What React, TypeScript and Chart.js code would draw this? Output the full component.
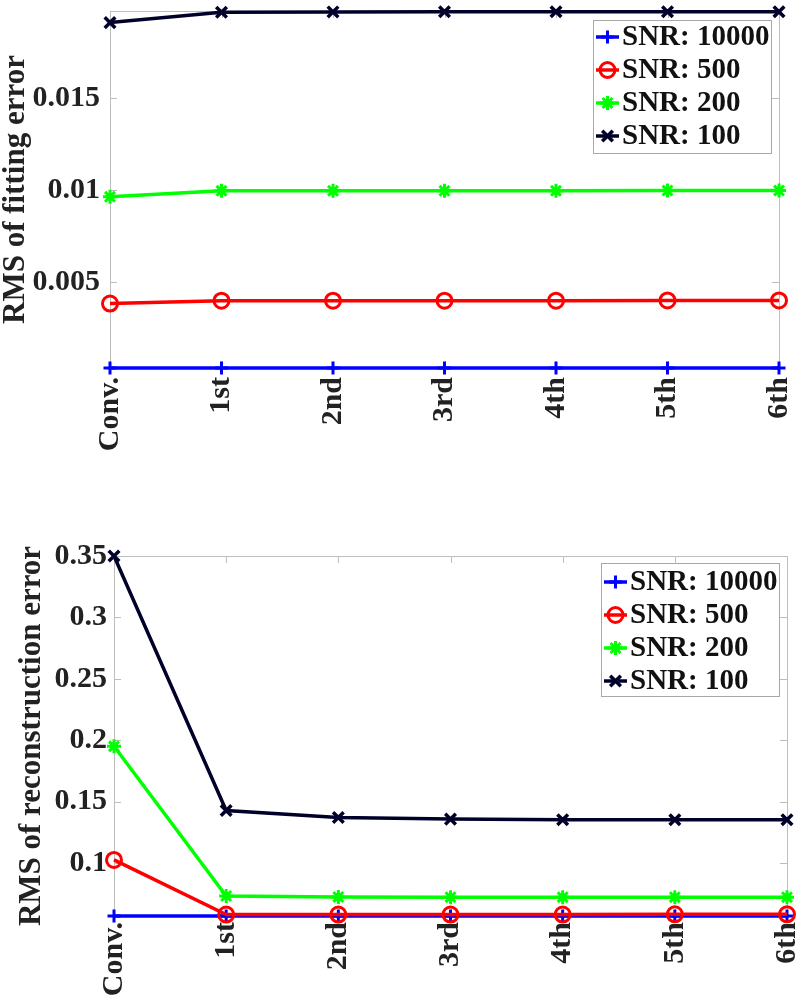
import React, { useEffect, useRef } from 'react';
import { Chart, registerables } from 'chart.js';
import { drawPoint } from 'chart.js/helpers';

Chart.register(...registerables);

// ---------- data ----------
const categories = ['Conv.', '1st', '2nd', '3rd', '4th', '5th', '6th'];
const seriesLabels = ['SNR: 10000', 'SNR: 500', 'SNR: 200', 'SNR: 100'];

// top panel: RMS of fitting error
const fitSnr10000 = [0.00032, 0.00032, 0.00032, 0.00032, 0.00032, 0.00032, 0.00032];
const fitSnr500 = [0.00382, 0.00398, 0.00398, 0.00398, 0.00398, 0.00399, 0.00399];
const fitSnr200 = [0.00962, 0.00995, 0.00995, 0.00995, 0.00995, 0.00996, 0.00996];
const fitSnr100 = [0.01909, 0.01965, 0.01967, 0.01968, 0.01968, 0.01968, 0.01968];
const fitTickValues = [0.005, 0.01, 0.015];
const fitTickLabels = ['0.005', '0.01', '0.015'];

// bottom panel: RMS of reconstruction error
const recSnr10000 = [0.0568, 0.0568, 0.0568, 0.0568, 0.0568, 0.0568, 0.0568];
const recSnr500 = [0.1025, 0.058, 0.058, 0.058, 0.058, 0.0582, 0.0582];
const recSnr200 = [0.195, 0.0731, 0.0723, 0.0721, 0.0721, 0.0721, 0.0721];
const recSnr100 = [0.35, 0.1427, 0.137, 0.1357, 0.1352, 0.1352, 0.1352];
const recTickValues = [0.1, 0.15, 0.2, 0.25, 0.3, 0.35];
const recTickLabels = ['0.1', '0.15', '0.2', '0.25', '0.3', '0.35'];

// ---------- styles ----------
const seriesColors = ['#0000ff', '#ff0000', '#00ff00', '#00002a'];
const seriesMarkers = ['cross', 'circle', 'star', 'crossRot'];
const markerRadius = [6.5, 7.5, 7, 7.5];
const markerWidth = [3, 3, 3, 3.5];
const FONT = '"Liberation Serif", "Times New Roman", serif';

const framePlugin = {
  id: 'frameBox',
  beforeDatasetsDraw(chart: any) {
    const { ctx, chartArea: a, scales } = chart;
    ctx.save();
    ctx.strokeStyle = '#bdbdbd';
    ctx.lineWidth = 1;
    ctx.strokeRect(a.left + 0.5, a.top + 0.5, a.right - a.left, a.bottom - a.top);
    const tl = 7;
    ctx.beginPath();
    scales.y.ticks.forEach((t: any) => {
      const y = Math.round(scales.y.getPixelForValue(t.value)) + 0.5;
      ctx.moveTo(a.left, y);
      ctx.lineTo(a.left + tl, y);
      ctx.moveTo(a.right, y);
      ctx.lineTo(a.right - tl, y);
    });
    scales.x.ticks.forEach((_t: any, i: number) => {
      const x = Math.round(scales.x.getPixelForTick(i)) + 0.5;
      ctx.moveTo(x, a.top);
      ctx.lineTo(x, a.top + tl);
      ctx.moveTo(x, a.bottom);
      ctx.lineTo(x, a.bottom - tl);
    });
    ctx.stroke();
    ctx.restore();
  },
};

const boxLegendPlugin = {
  id: 'boxLegend',
  afterDatasetsDraw(chart: any, _args: any, opts: any) {
    const { ctx, chartArea: a } = chart;
    const w = 178;
    const h = 133;
    const x0 = Math.round(a.right - opts.right - w);
    const y0 = Math.round(a.top + opts.top);
    ctx.save();
    ctx.fillStyle = '#ffffff';
    ctx.fillRect(x0, y0, w, h);
    ctx.strokeStyle = '#a8a8a8';
    ctx.lineWidth = 1;
    ctx.strokeRect(x0 + 0.5, y0 + 0.5, w, h);
    chart.data.datasets.forEach((ds: any, i: number) => {
      const cy = y0 + opts.firstRow + i * 33;
      ctx.strokeStyle = ds.borderColor;
      ctx.lineWidth = ds.borderWidth;
      ctx.beginPath();
      ctx.moveTo(x0 + 3, cy);
      ctx.lineTo(x0 + 26, cy);
      ctx.stroke();
      ctx.fillStyle = 'rgba(0,0,0,0)';
      ctx.lineWidth = ds.pointBorderWidth;
      drawPoint(
        ctx,
        { pointStyle: ds.pointStyle, radius: ds.pointRadius, borderWidth: ds.pointBorderWidth, rotation: 0 } as any,
        x0 + 14.5,
        cy
      );
      ctx.fillStyle = '#111111';
      ctx.font = `bold 29px ${FONT}`;
      ctx.textBaseline = 'middle';
      ctx.textAlign = 'left';
      ctx.fillText(ds.label, x0 + 29, cy + 1);
    });
    ctx.restore();
  },
};

function buildConfig(p: {
  series: number[][];
  min: number;
  max: number;
  tickValues: number[];
  tickLabels: string[];
  title: string;
  padding: { left: number; right: number; top: number; bottom: number };
  yWidth: number;
  xHeight: number;
  yTickPad: number;
  xTickPad: number;
  titlePad: number;
  legend: { right: number; top: number; firstRow: number };
}) {
  return {
    type: 'line' as const,
    data: {
      labels: categories,
      datasets: p.series.map((vals, i) => ({
        label: seriesLabels[i],
        data: vals,
        borderColor: seriesColors[i],
        backgroundColor: seriesColors[i],
        borderWidth: 3.5,
        pointStyle: seriesMarkers[i],
        pointRadius: markerRadius[i],
        pointBorderWidth: markerWidth[i],
        pointBorderColor: seriesColors[i],
        pointBackgroundColor: 'rgba(0,0,0,0)',
        tension: 0,
        fill: false,
        clip: false as any,
        order: p.series.length - 1 - i,
      })),
    },
    options: {
      animation: false as const,
      responsive: false,
      devicePixelRatio: 1,
      events: [],
      layout: { padding: p.padding },
      plugins: {
        legend: { display: false },
        tooltip: { enabled: false },
        boxLegend: p.legend,
      },
      scales: {
        x: {
          type: 'category' as const,
          offset: false,
          grid: { display: false, drawTicks: false },
          border: { display: false },
          ticks: {
            autoSkip: false,
            minRotation: 90,
            maxRotation: 90,
            padding: p.xTickPad,
            color: '#222222',
            font: { family: FONT, size: 30, weight: 'bold' as const, lineHeight: 1 },
          },
          afterFit(scale: any) {
            scale.height = p.xHeight;
            scale.paddingLeft = 0;
            scale.paddingRight = 0;
          },
        },
        y: {
          type: 'linear' as const,
          min: p.min,
          max: p.max,
          grid: { display: false, drawTicks: false },
          border: { display: false },
          afterBuildTicks(scale: any) {
            scale.ticks = p.tickValues.map((v) => ({ value: v }));
          },
          ticks: {
            padding: p.yTickPad,
            color: '#222222',
            font: { family: FONT, size: 30, weight: 'bold' as const, lineHeight: 1 },
            callback(value: any) {
              const idx = p.tickValues.findIndex((v) => Math.abs(v - value) < 1e-9);
              return idx >= 0 ? p.tickLabels[idx] : '';
            },
          },
          title: {
            display: true,
            text: p.title,
            color: '#222222',
            padding: { top: p.titlePad, bottom: 0 },
            font: { family: FONT, size: 31, weight: 'bold' as const, lineHeight: 1 },
          },
          afterFit(scale: any) {
            scale.width = p.yWidth;
            scale.paddingTop = 0;
            scale.paddingBottom = 0;
          },
        },
      },
    },
    plugins: [framePlugin, boxLegendPlugin],
  };
}

function Panel({ top, height, config }: { top: number; height: number; config: any }) {
  const ref = useRef<HTMLCanvasElement | null>(null);
  useEffect(() => {
    if (!ref.current) return;
    const chart = new Chart(ref.current, config);
    return () => chart.destroy();
  }, [config]);
  return (
    <canvas
      ref={ref}
      width={800}
      height={height}
      style={{ position: 'absolute', left: 0, top, width: 800, height, display: 'block' }}
    />
  );
}

const topConfig = buildConfig({
  series: [fitSnr10000, fitSnr500, fitSnr200, fitSnr100],
  min: 0.00032,
  max: 0.01972,
  tickValues: fitTickValues,
  tickLabels: fitTickLabels,
  title: 'RMS of fitting error',
  padding: { left: 0, right: 21, top: 7, bottom: 0 },
  yWidth: 110,
  xHeight: 112,
  yTickPad: 10,
  xTickPad: 9,
  titlePad: 0,
  legend: { right: 8, top: 9, firstRow: 17 },
});

const bottomConfig = buildConfig({
  series: [recSnr10000, recSnr500, recSnr200, recSnr100],
  min: 0.0568,
  max: 0.35,
  tickValues: recTickValues,
  tickLabels: recTickLabels,
  title: 'RMS of reconstruction error',
  padding: { left: 0, right: 13, top: 56, bottom: 0 },
  yWidth: 114,
  xHeight: 88,
  yTickPad: 7,
  xTickPad: 6,
  titlePad: 16,
  legend: { right: 8, top: 7, firstRow: 19 },
});

export default function App() {
  return (
    <div style={{ position: 'absolute', left: 0, top: 0, width: 800, height: 1004, background: '#ffffff', overflow: 'hidden' }}>
      <Panel top={0} height={480} config={topConfig} />
      <Panel top={500} height={504} config={bottomConfig} />
    </div>
  );
}
